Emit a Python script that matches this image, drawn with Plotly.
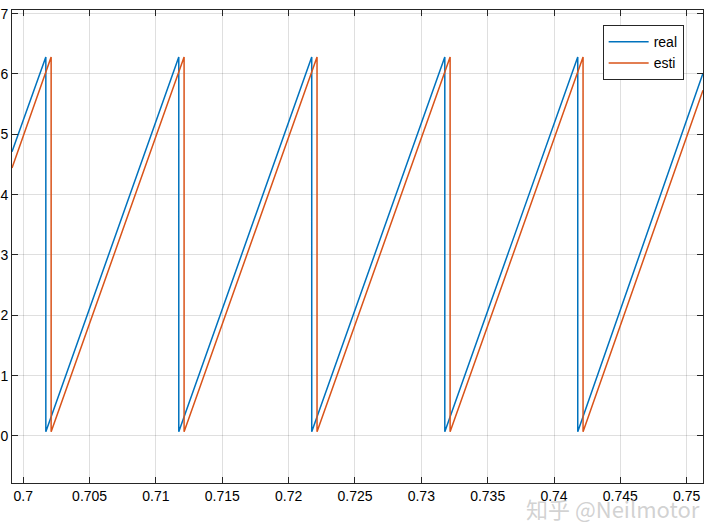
import plotly.graph_objects as go

# ---- data ----
x_range = [0.69915, 0.75123]
y_range = [-0.78, 7.06]

# wrap instants (vertical drop from peak to trough) for each series
real_wraps = [0.70170, 0.71172, 0.72174, 0.73177, 0.74179]
esti_wraps = [0.70210, 0.71212, 0.72214, 0.73217, 0.74219]
peak_value = 6.28
trough_value = 0.07
real_start, real_end = 4.71, 6.01
esti_start, esti_end = 4.44, 5.73

x_tickvals = [0.7, 0.705, 0.71, 0.715, 0.72, 0.725, 0.73, 0.735, 0.74, 0.745, 0.75]
x_ticktext = ["0.7", "0.705", "0.71", "0.715", "0.72", "0.725", "0.73", "0.735", "0.74", "0.745", "0.75"]
y_tickvals = [0, 1, 2, 3, 4, 5, 6, 7]
y_ticktext = ["0", "1", "2", "3", "4", "5", "6", "7"]


def vertices(wraps, start, end):
    xs, ys = [x_range[0]], [start]
    for w in wraps:
        xs += [w, w]
        ys += [peak_value, trough_value]
    xs.append(x_range[1])
    ys.append(end)
    return xs, ys


rx, ry = vertices(real_wraps, real_start, real_end)
ex, ey = vertices(esti_wraps, esti_start, esti_end)

fig = go.Figure()
fig.add_trace(go.Scatter(x=rx, y=ry, mode="lines", name="real",
                         line=dict(color="#0072BD", width=1.5)))
fig.add_trace(go.Scatter(x=ex, y=ey, mode="lines", name="esti",
                         line=dict(color="#D95319", width=1.5)))

axis_common = dict(
    showline=True, linecolor="#262626", linewidth=1, mirror="ticks",
    ticks="inside", ticklen=6, tickcolor="#262626",
    showgrid=True, gridcolor="rgba(38,38,38,0.15)", gridwidth=1,
    zeroline=False, automargin=False,
    tickfont=dict(family="Liberation Sans, Arial, sans-serif", size=14, color="#000000"),
)

fig.update_layout(
    width=720, height=530,
    margin=dict(l=12, r=17, t=10, b=47),
    paper_bgcolor="white", plot_bgcolor="white",
    xaxis=dict(range=x_range, tickvals=x_tickvals, ticktext=x_ticktext, **axis_common),
    yaxis=dict(range=y_range, tickvals=y_tickvals, ticktext=y_ticktext, **axis_common),
    legend=dict(
        x=0.972, y=0.968, xanchor="right", yanchor="top",
        bgcolor="white", bordercolor="#262626", borderwidth=1,
        font=dict(family="Liberation Sans, Arial, sans-serif", size=14, color="#000000"),
        tracegroupgap=0, itemwidth=40,
    ),
    showlegend=True,
)

fig.add_annotation(
    text="知乎 @Neilmotor", xref="paper", yref="paper",
    x=0.998, y=-0.015, xanchor="right", yanchor="top", showarrow=False,
    font=dict(family="Noto Sans CJK SC, sans-serif", size=22, color="rgba(190,190,190,0.7)"),
)

fig.write_html("out.html", config={"displayModeBar": False},
               post_script="document.body.style.margin='0';")
